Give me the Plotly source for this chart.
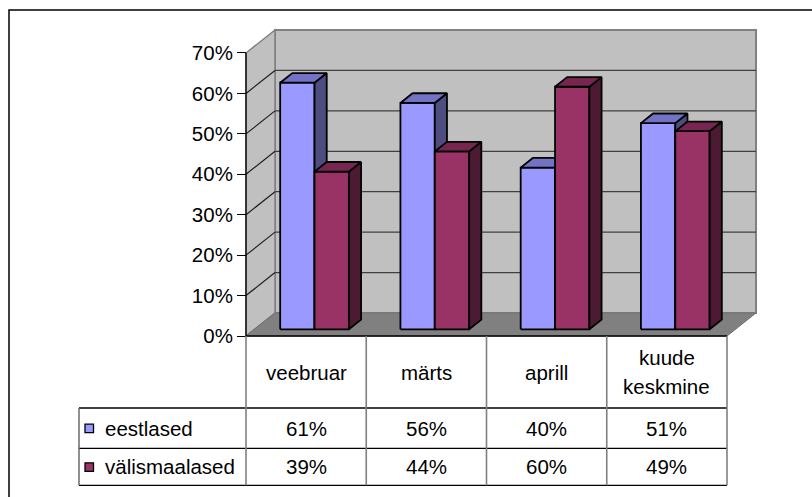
import plotly.graph_objects as go

# ---------------- data ----------------
categories = ["veebruar", "märts", "aprill", "kuude keskmine"]
series_names = ["eestlased", "välismaalased"]
eestlased = [61, 56, 40, 51]
valismaalased = [39, 44, 60, 49]
y_ticks = [0, 10, 20, 30, 40, 50, 60, 70]
y_tick_labels = ["0%", "10%", "20%", "30%", "40%", "50%", "60%", "70%"]

series_values = [eestlased, valismaalased]
front_colors = ["#9999FF", "#993366"]
top_colors = ["#7373C6", "#76264F"]
side_colors = ["#4D4D80", "#4D1A33"]

# ---------------- layout geometry ----------------
W, H = 812, 497
X0_PX, CAT_PX = 246.0, 120.25      # category axis origin / width of one category (px)
Y0_PX, PCT_PX = 336.0, 4.043       # 0% level / px per percent
YMAX = 70
DX = 29.0 / CAT_PX                 # depth offset of floor/back wall in x units
DY = 23.0 / PCT_PX                 # depth offset in y units
N = len(categories)

def px_x(px):
    return (px - X0_PX) / CAT_PX

def px_y(py):
    return (Y0_PX - py) / PCT_PX

FONT = dict(family="Liberation Sans, Arial, sans-serif", size=20.5, color="black")

fig = go.Figure()
shapes = []
annotations = []

def path(pts):
    return "M " + " L ".join(f"{x:.5f},{y:.5f}" for x, y in pts) + " Z"

# back wall
shapes.append(dict(type="rect", xref="x", yref="y", x0=DX, x1=N + DX, y0=DY, y1=YMAX + DY,
                   fillcolor="#C0C0C0", line=dict(color="#808080", width=2), layer="below"))
# left side wall
shapes.append(dict(type="path", xref="x", yref="y",
                   path=path([(0, 0), (DX, DY), (DX, YMAX + DY), (0, YMAX)]),
                   fillcolor="#C0C0C0", line=dict(color="#808080", width=1.5), layer="below"))
# floor
shapes.append(dict(type="path", xref="x", yref="y",
                   path=path([(0, 0), (N, 0), (N + DX, DY), (DX, DY)]),
                   fillcolor="#808080", line=dict(color="#707070", width=1), layer="below"))
# gridlines
for t in y_ticks[1:-1]:
    shapes.append(dict(type="line", xref="x", yref="y", x0=DX, x1=N + DX, y0=t + DY, y1=t + DY,
                       line=dict(color="#404040", width=1.3), layer="below"))
    shapes.append(dict(type="line", xref="x", yref="y", x0=0, x1=DX, y0=t, y1=t + DY,
                       line=dict(color="#202020", width=1.2), layer="below"))

# ---------------- bars ----------------
gap = 1.5
bw = 1.0 / (2 + gap)
d0, d1 = 0.29, 0.71
bdx, bdy = (d1 - d0) * DX, (d1 - d0) * DY
for i in range(N):
    for s, vals in enumerate(series_values):
        v = vals[i]
        xl = i + gap * bw / 2 + s * bw + d0 * DX
        xr = xl + bw
        yb = d0 * DY
        yt = v + d0 * DY
        faces = [
            ([xl, xr, xr, xl, xl], [yb, yb, yt, yt, yb], front_colors[s]),
            ([xr, xr + bdx, xr + bdx, xr, xr], [yb, yb + bdy, yt + bdy, yt, yb], side_colors[s]),
            ([xl, xr, xr + bdx, xl + bdx, xl], [yt, yt, yt + bdy, yt + bdy, yt], top_colors[s]),
        ]
        for fx, fy, col in faces:
            fig.add_trace(go.Scatter(x=fx, y=fy, mode="lines", fill="toself", fillcolor=col,
                                     line=dict(color="black", width=1.8), hoverinfo="skip",
                                     showlegend=False))

# axis lines
shapes.append(dict(type="line", xref="x", yref="y", x0=0, x1=0, y0=0, y1=YMAX,
                   line=dict(color="black", width=1.3)))
shapes.append(dict(type="line", xref="x", yref="y", x0=0, x1=N, y0=0, y1=0,
                   line=dict(color="black", width=1.3)))

# ---------------- data table ----------------
TBL_LEFT = px_x(79)
ROW_HDR_BOT = px_y(408)
ROW1_BOT = px_y(448.3)
ROW2_BOT = px_y(485.3)

for yv in [ROW_HDR_BOT, ROW1_BOT, ROW2_BOT]:
    shapes.append(dict(type="line", xref="x", yref="y", x0=TBL_LEFT, x1=N, y0=yv, y1=yv,
                       line=dict(color="black", width=1.3)))
for i in range(N + 1):
    shapes.append(dict(type="line", xref="x", yref="y", x0=i, x1=i, y0=0, y1=ROW2_BOT,
                       line=dict(color="#808080", width=1.6)))
shapes.append(dict(type="line", xref="x", yref="y", x0=TBL_LEFT, x1=TBL_LEFT, y0=ROW_HDR_BOT,
                   y1=ROW2_BOT, line=dict(color="#606060", width=1.4)))

# header labels
hdr_center = (Y0_PX + 408) / 2
line_gap = 29
for i, cat in enumerate(categories):
    lines = cat.split(" ")
    n = len(lines)
    for k, ln in enumerate(lines):
        cy = hdr_center + (k - (n - 1) / 2) * line_gap
        annotations.append(dict(x=i + 0.5, y=px_y(cy), xref="x", yref="y", text=ln,
                                showarrow=False, xanchor="center", yanchor="middle", font=FONT))

# rows
row_centers = [(408 + 448.3) / 2, (448.3 + 485.3) / 2]
for s, name in enumerate(series_names):
    cy = row_centers[s]
    shapes.append(dict(type="rect", xref="x", yref="y", x0=px_x(85), x1=px_x(93.5),
                       y0=px_y(cy + 4.5), y1=px_y(cy - 4),
                       fillcolor=front_colors[s], line=dict(color="black", width=1.3)))
    annotations.append(dict(x=px_x(103), y=px_y(cy), xref="x", yref="y", text=name,
                            showarrow=False, xanchor="left", yanchor="middle", font=FONT))
    for i, v in enumerate(series_values[s]):
        annotations.append(dict(x=i + 0.5, y=px_y(cy), xref="x", yref="y", text=f"{v}%",
                                showarrow=False, xanchor="center", yanchor="middle", font=FONT))

# outer chart border (extends beyond right/bottom edge)
shapes.append(dict(type="rect", xref="paper", yref="paper", x0=9 / W, x1=820 / W,
                   y0=1 - 505 / H, y1=1 - 10 / H, line=dict(color="black", width=1.5),
                   fillcolor="rgba(0,0,0,0)"))

fig.update_layout(
    width=W, height=H,
    margin=dict(l=0, r=0, t=0, b=0, pad=0),
    paper_bgcolor="white", plot_bgcolor="white",
    showlegend=False,
    shapes=shapes,
    annotations=annotations,
    xaxis=dict(range=[px_x(0), px_x(W)], visible=False, fixedrange=True),
    yaxis=dict(range=[px_y(H), px_y(0)], anchor="free", position=X0_PX / W,
               showgrid=False, zeroline=False, showline=False,
               tickmode="array", tickvals=y_ticks, ticktext=y_tick_labels,
               ticks="outside", ticklen=9, tickwidth=1.3, tickcolor="black",
               tickfont=FONT, fixedrange=True),
)

fig.write_html("out.html", config={"displayModeBar": False},
               post_script="document.body.style.margin='0';document.body.style.overflow='hidden';")
